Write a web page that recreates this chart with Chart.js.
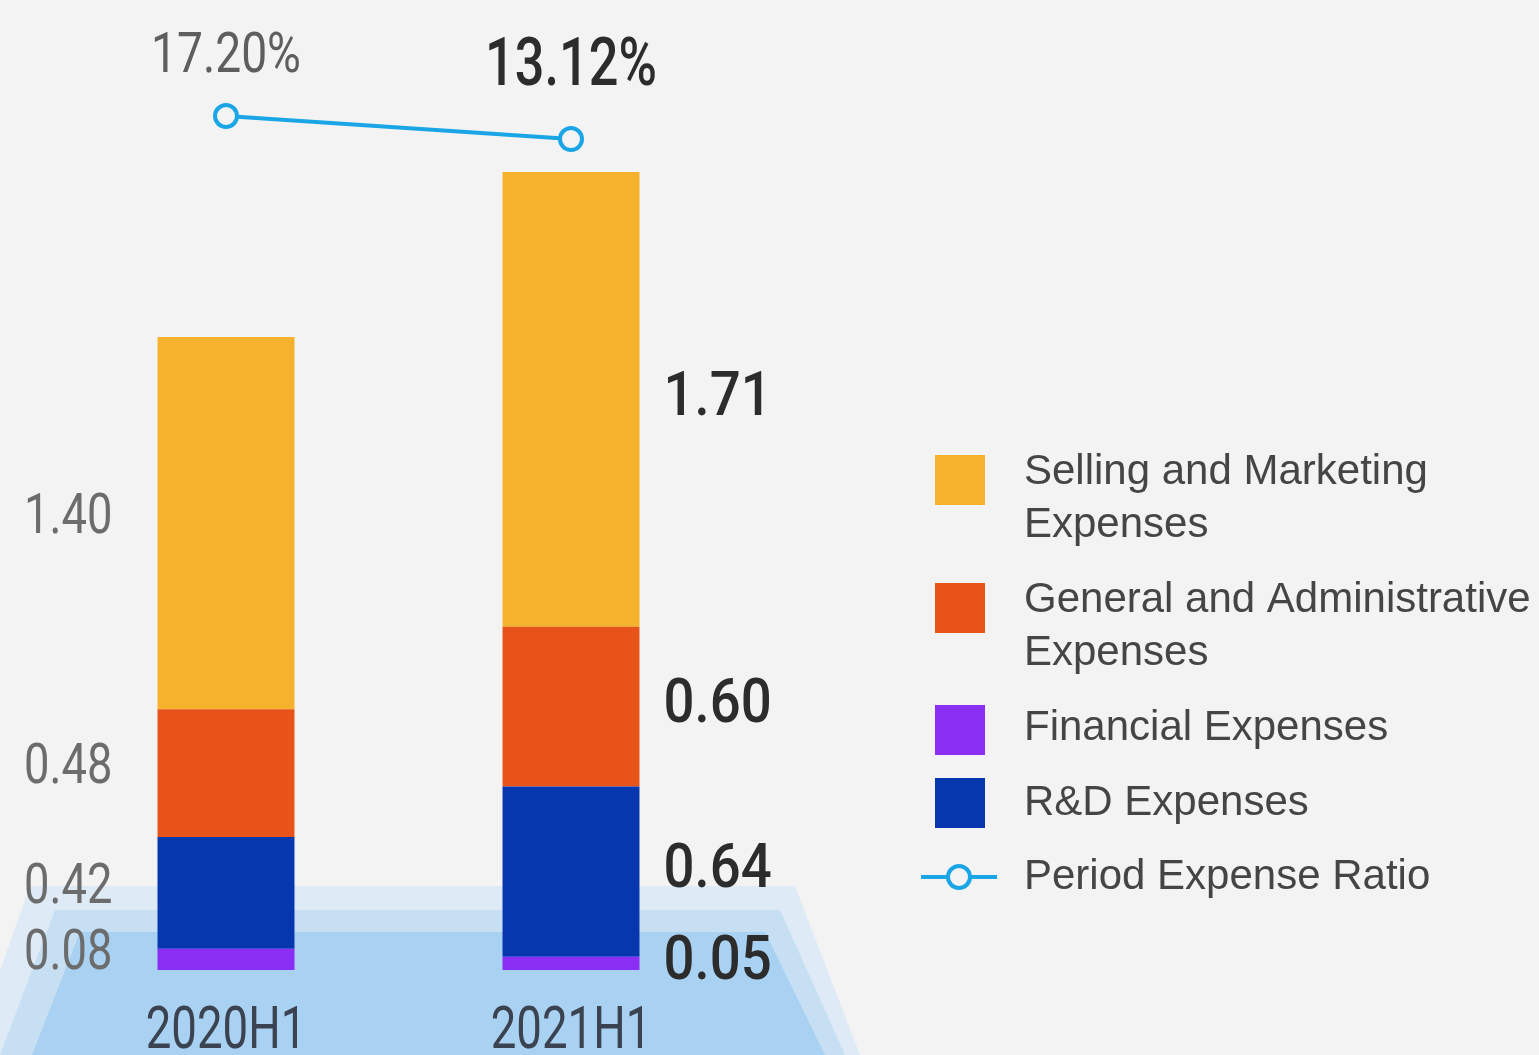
<!DOCTYPE html>
<html>
<head>
<meta charset="utf-8">
<script src="https://cdn.jsdelivr.net/npm/chart.js@4"></script>
<style>
  html, body { margin: 0; padding: 0; background: #f3f3f3; }
  canvas { display: block; }
</style>
</head>
<body>
<canvas id="chart" width="1539" height="1055"></canvas>
<script>
// periods and values (RMB billion), stacked bottom -> top
const periods = ['2020H1', '2021H1'];
const financialExp = [0.08, 0.05];
const rdExp = [0.42, 0.64];
const generalAdminExp = [0.48, 0.60];
const sellingMarketingExp = [1.40, 1.71];
const expenseRatio = [17.20, 13.12];

const legendOrder = [
    'Selling and Marketing Expenses',
    'General and Administrative Expenses',
    'Financial Expenses',
    'R&D Expenses',
    'Period Expense Ratio'
];

const numFont = 'Roboto, "DejaVu Sans", sans-serif';
const textFont = '"Liberation Sans", Arial, sans-serif';

// draws text squeezed horizontally (the original uses a condensed face)
function narrowText(ctx, txt, x, y, align, sx) {
    const w = ctx.measureText(txt).width * sx;
    let left = x;
    if (align === 'center') left = x - w / 2;
    if (align === 'right') left = x - w;
    ctx.save();
    ctx.translate(left, y);
    ctx.scale(sx, 1);
    ctx.textAlign = 'left';
    ctx.fillText(txt, 0, 0);
    ctx.restore();
}

// light blue platform under the bars
const backdrop = {
    id: 'backdrop',
    beforeDraw(chart) {
        const ctx = chart.ctx;
        ctx.save();
        ctx.fillStyle = '#f3f3f3';
        ctx.fillRect(0, 0, chart.width, chart.height);
        ctx.fillStyle = '#deebf6';
        ctx.beginPath();
        ctx.moveTo(30, 886);
        ctx.lineTo(795, 886);
        ctx.lineTo(860, 1055);
        ctx.lineTo(-30, 1055);
        ctx.closePath();
        ctx.fill();
        ctx.fillStyle = '#c6dff3';
        ctx.beginPath();
        ctx.moveTo(55, 910);
        ctx.lineTo(780, 910);
        ctx.lineTo(845, 1055);
        ctx.lineTo(0, 1055);
        ctx.closePath();
        ctx.fill();
        ctx.fillStyle = '#a9d1f2';
        ctx.beginPath();
        ctx.moveTo(80, 932);
        ctx.lineTo(765, 932);
        ctx.lineTo(825, 1055);
        ctx.lineTo(32, 1055);
        ctx.closePath();
        ctx.fill();
        ctx.restore();
    }
};

const labels = {
    id: 'labels',
    afterDatasetsDraw(chart) {
        const ctx = chart.ctx;
        ctx.save();
        // stacked bar values
        chart.data.datasets.forEach((ds, di) => {
            if (ds.type === 'line') return;
            const meta = chart.getDatasetMeta(di);
            meta.data.forEach((bar, i) => {
                const y = (bar.y + bar.base) / 2;
                const txt = ds.data[i].toFixed(2);
                ctx.textBaseline = 'middle';
                if (i === 0) {
                    ctx.font = '56px ' + numFont;
                    ctx.fillStyle = '#6c6c6c';
                    narrowText(ctx, txt, bar.x - bar.width / 2 - 45, y - 4, 'right', 0.81);
                } else {
                    ctx.font = '500 62px ' + numFont;
                    ctx.fillStyle = '#2c2c2c';
                    narrowText(ctx, txt, bar.x + bar.width / 2 + 24, y, 'left', 0.88);
                }
            });
        });
        // ratio labels
        const lineIdx = chart.data.datasets.findIndex(d => d.type === 'line');
        const lineMeta = chart.getDatasetMeta(lineIdx);
        lineMeta.data.forEach((pt, i) => {
            ctx.textBaseline = 'alphabetic';
            const txt = expenseRatio[i].toFixed(2) + '%';
            if (i === 0) {
                ctx.font = '55px ' + numFont;
                ctx.fillStyle = '#5e5e5e';
                narrowText(ctx, txt, pt.x, pt.y - 44, 'center', 0.84);
            } else {
                ctx.font = '500 67px ' + numFont;
                ctx.fillStyle = '#2c2c2c';
                narrowText(ctx, txt, pt.x, pt.y - 54, 'center', 0.78);
            }
        });
        // category labels
        const xs = chart.scales.x;
        ctx.font = '60px ' + numFont;
        ctx.fillStyle = '#3b4250';
        ctx.textBaseline = 'alphabetic';
        periods.forEach((p, i) => {
            narrowText(ctx, p, xs.getPixelForValue(i), 1048, 'center', 0.76);
        });
        ctx.restore();
    },
    afterDraw(chart) {
        // legend on the right
        const ctx = chart.ctx;
        ctx.save();
        ctx.font = '42px ' + textFont;
        ctx.textAlign = 'left';
        ctx.textBaseline = 'middle';
        const rows = [
            { box: 480, lines: ['Selling and Marketing', 'Expenses'], top: 472 },
            { box: 608, lines: ['General and Administrative', 'Expenses'], top: 600 },
            { box: 730, lines: ['Financial Expenses'], top: 728 },
            { box: 803, lines: ['R&D Expenses'], top: 803 },
            { box: 877, lines: ['Period Expense Ratio'], top: 877 }
        ];
        legendOrder.forEach((name, k) => {
            const ds = chart.data.datasets.find(d => d.label === name);
            const r = rows[k];
            if (ds.type === 'line') {
                ctx.strokeStyle = ds.borderColor;
                ctx.lineWidth = 4;
                ctx.beginPath();
                ctx.moveTo(921, r.box);
                ctx.lineTo(997, r.box);
                ctx.stroke();
                ctx.fillStyle = '#f3f3f3';
                ctx.beginPath();
                ctx.arc(959, r.box, 11, 0, Math.PI * 2);
                ctx.fill();
                ctx.stroke();
            } else {
                ctx.fillStyle = ds.backgroundColor;
                ctx.fillRect(935, r.box - 25, 50, 50);
            }
            ctx.fillStyle = '#454545';
            r.lines.forEach((ln, j) => {
                ctx.fillText(ln, 1024, r.top + j * 53);
            });
        });
        ctx.restore();
    }
};

new Chart(document.getElementById('chart'), {
    type: 'bar',
    data: {
        labels: periods,
        datasets: [
            {
                label: 'Period Expense Ratio',
                type: 'line',
                data: expenseRatio,
                yAxisID: 'y1',
                borderColor: '#1aa6e6',
                borderWidth: 4,
                pointRadius: 11,
                pointBorderWidth: 4,
                pointBackgroundColor: '#f3f3f3',
                pointBorderColor: '#1aa6e6',
                order: 0
            },
            { label: 'Financial Expenses', data: financialExp, backgroundColor: '#8a2ef4', order: 1 },
            { label: 'R&D Expenses', data: rdExp, backgroundColor: '#0637ae', order: 1 },
            { label: 'General and Administrative Expenses', data: generalAdminExp, backgroundColor: '#e8531a', order: 1 },
            { label: 'Selling and Marketing Expenses', data: sellingMarketingExp, backgroundColor: '#f6b22c', order: 1 }
        ]
    },
    options: {
        responsive: false,
        devicePixelRatio: 1,
        animation: false,
        events: [],
        layout: { autoPadding: false, padding: { left: 53.5, right: 795.5, top: 0, bottom: 85 } },
        datasets: {
            bar: { categoryPercentage: 1, barPercentage: 0.397, borderWidth: 0 }
        },
        plugins: {
            legend: { display: false },
            tooltip: { enabled: false }
        },
        scales: {
            x: { stacked: true, display: false },
            y: { stacked: true, display: false, min: 0, max: 970 / 266 },
            y1: { display: false, min: -134.23, max: 37.77 }
        }
    },
    plugins: [backdrop, labels]
});
</script>
</body>
</html>
